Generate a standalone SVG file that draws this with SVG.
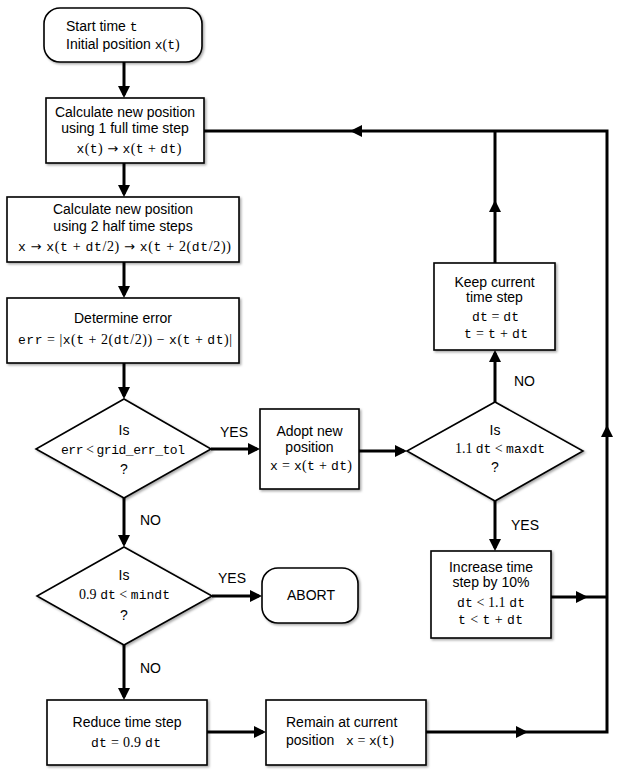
<svg xmlns="http://www.w3.org/2000/svg" width="622" height="777" viewBox="0 0 622 777">
<style>
.box{fill:#fff;stroke:#000;stroke-width:1.6;filter:url(#sh)}
.t{font-family:"Liberation Sans",Arial,sans-serif;font-size:14px;fill:#000}
.c{text-anchor:middle}
.f{font-family:"Liberation Mono","DejaVu Sans Mono",monospace;font-size:13px;fill:#000}
.o{font-family:"Liberation Serif","DejaVu Serif",serif;font-size:14px}
.a{font-family:"DejaVu Sans",sans-serif;font-size:13px}
.ln{fill:none;stroke:#000;stroke-width:3}
.ar{marker-end:url(#ah)}
.mh{fill:#000}
</style>
<defs>
<filter id="sh" x="-10%" y="-10%" width="130%" height="130%">
<feDropShadow dx="1.5" dy="1.5" stdDeviation="1" flood-color="#000" flood-opacity="0.35"/>
</filter>
<marker id="ah" viewBox="0 0 12 12" refX="9" refY="6" markerWidth="12" markerHeight="12" markerUnits="userSpaceOnUse" orient="auto">
<path d="M0,0 L12,6 L0,12 z" fill="#000"/>
</marker>
</defs>

<g id="connectors">
<path class="ln ar" d="M124,62 V95"/>
<path class="ln ar" d="M124,163 V194"/>
<path class="ln ar" d="M124,262 V295"/>
<path class="ln ar" d="M124,363 V396"/>
<path class="ln ar" d="M124,498 V544"/>
<path class="ln ar" d="M124,645 V697"/>
<path class="ln ar" d="M211,449 H257"/>
<path class="ln ar" d="M359,451 H404"/>
<path class="ln ar" d="M212,596 H259"/>
<path class="ln ar" d="M207,732 H263"/>
<path class="ln ar" d="M495,402 V353"/>
<path class="ln ar" d="M495,501 V548"/>
<path class="ln" d="M495,263 V131"/>
<path class="ln" d="M204,131 H607 V732 H426"/>
<path class="ln" d="M551,597 H607"/>
<polygon class="mh" points="350,131 362,125 362,137"/>
<polygon class="mh" points="495,200 489,212 501,212"/>
<polygon class="mh" points="607,425 601,437 613,437"/>
<polygon class="mh" points="528,732 516,726 516,738"/>
<polygon class="mh" points="588,597 576,591 576,603"/>
<text class="t" x="220" y="437">YES</text>
<text class="t" x="140" y="525">NO</text>
<text class="t" x="218" y="583">YES</text>
<text class="t" x="140" y="673">NO</text>
<text class="t" x="514" y="386">NO</text>
<text class="t" x="511" y="530">YES</text>
</g>

<g id="start">
<rect class="box" x="44" y="8" width="158" height="54" rx="16"/>
<text class="t" x="66" y="31">Start time <tspan class="f">t</tspan></text>
<text class="t" x="66" y="49">Initial position <tspan class="f">x</tspan><tspan class="o">(</tspan><tspan class="f">t</tspan><tspan class="o">)</tspan></text>
</g>

<g id="full-step">
<rect class="box" x="46" y="98" width="158" height="65"/>
<text class="t c" x="125" y="117">Calculate new position</text>
<text class="t c" x="125" y="133">using 1 full time step</text>
<text class="f c" x="129" y="153" textLength="105" lengthAdjust="spacing">x<tspan class="o">(</tspan>t<tspan class="o">) </tspan><tspan class="a">→</tspan><tspan class="o"> </tspan>x<tspan class="o">(</tspan>t<tspan class="o"> + </tspan>dt<tspan class="o">)</tspan></text>
</g>

<g id="half-steps">
<rect class="box" x="7" y="197" width="232" height="65"/>
<text class="t c" x="123" y="214">Calculate new position</text>
<text class="t c" x="123" y="231">using 2 half time steps</text>
<text class="f c" x="124.5" y="251" textLength="213" lengthAdjust="spacing">x<tspan class="o"> </tspan><tspan class="a">→</tspan><tspan class="o"> </tspan>x<tspan class="o">(</tspan>t<tspan class="o"> + </tspan>dt<tspan class="o">/2) </tspan><tspan class="a">→</tspan><tspan class="o"> </tspan>x<tspan class="o">(</tspan>t<tspan class="o"> + 2(</tspan>dt<tspan class="o">/2))</tspan></text>
</g>

<g id="error">
<rect class="box" x="7" y="298" width="232" height="65"/>
<text class="t c" x="123" y="323">Determine error</text>
<text class="f c" x="125" y="344" textLength="214" lengthAdjust="spacing">err<tspan class="o"> = |</tspan>x<tspan class="o">(</tspan>t<tspan class="o"> + 2(</tspan>dt<tspan class="o">/2)) − </tspan>x<tspan class="o">(</tspan>t<tspan class="o"> + </tspan>dt<tspan class="o">)|</tspan></text>
</g>

<g id="decision-tol">
<polygon class="box" points="124,399 211,449 124,498 36,449"/>
<text class="t c" x="124" y="435">Is</text>
<text class="f c" x="123" y="454" textLength="124" lengthAdjust="spacing">err<tspan class="o"> &lt; </tspan>grid_err_tol</text>
<text class="t c" x="124" y="474">?</text>
</g>

<g id="adopt">
<rect class="box" x="260" y="409" width="99" height="80"/>
<text class="t c" x="309.5" y="436">Adopt new</text>
<text class="t c" x="309.5" y="452">position</text>
<text class="f c" x="311" y="470" textLength="82" lengthAdjust="spacing">x<tspan class="o"> = </tspan>x<tspan class="o">(</tspan>t<tspan class="o"> + </tspan>dt<tspan class="o">)</tspan></text>
</g>

<g id="decision-max">
<polygon class="box" points="495,402 583,451 495,501 407,451"/>
<text class="t c" x="495" y="435">Is</text>
<text class="f c" x="500" y="453" textLength="90" lengthAdjust="spacing"><tspan class="o">1.1 </tspan>dt<tspan class="o"> &lt; </tspan>maxdt</text>
<text class="t c" x="495" y="472">?</text>
</g>

<g id="keep">
<rect class="box" x="434" y="263" width="121" height="87"/>
<text class="t c" x="494.5" y="287">Keep current</text>
<text class="t c" x="494.5" y="302">time step</text>
<text class="f c" x="495.5" y="321" textLength="47" lengthAdjust="spacing">dt<tspan class="o"> = </tspan>dt</text>
<text class="f c" x="496" y="338" textLength="64" lengthAdjust="spacing">t<tspan class="o"> = </tspan>t<tspan class="o"> + </tspan>dt</text>
</g>

<g id="increase">
<rect class="box" x="431" y="551" width="120" height="87"/>
<text class="t c" x="491" y="572">Increase time</text>
<text class="t c" x="491" y="587">step by 10%</text>
<text class="f c" x="491" y="607" textLength="68" lengthAdjust="spacing">dt<tspan class="o"> &lt; 1.1 </tspan>dt</text>
<text class="f c" x="490.5" y="624" textLength="65" lengthAdjust="spacing">t<tspan class="o"> &lt; </tspan>t<tspan class="o"> + </tspan>dt</text>
</g>

<g id="decision-min">
<polygon class="box" points="124,547 212,596 124,645 37,596"/>
<text class="t c" x="124" y="580">Is</text>
<text class="f c" x="124.5" y="599" textLength="91" lengthAdjust="spacing"><tspan class="o">0.9 </tspan>dt<tspan class="o"> &lt; </tspan>mindt</text>
<text class="t c" x="124" y="620">?</text>
</g>

<g id="abort">
<rect class="box" x="262" y="568" width="96" height="55" rx="16"/>
<text class="t c" x="311" y="600">ABORT</text>
</g>

<g id="reduce">
<rect class="box" x="47" y="700" width="160" height="65"/>
<text class="t c" x="127" y="727">Reduce time step</text>
<text class="f c" x="126" y="747" textLength="70" lengthAdjust="spacing">dt<tspan class="o"> = 0.9 </tspan>dt</text>
</g>

<g id="remain">
<rect class="box" x="266" y="700" width="160" height="65"/>
<text class="t" x="286" y="727">Remain at current</text>
<text class="t" x="286" y="745">position</text>
<text class="f" x="346" y="745" textLength="48" lengthAdjust="spacing">x<tspan class="o"> = </tspan>x<tspan class="o">(</tspan>t<tspan class="o">)</tspan></text>
</g>
</svg>
